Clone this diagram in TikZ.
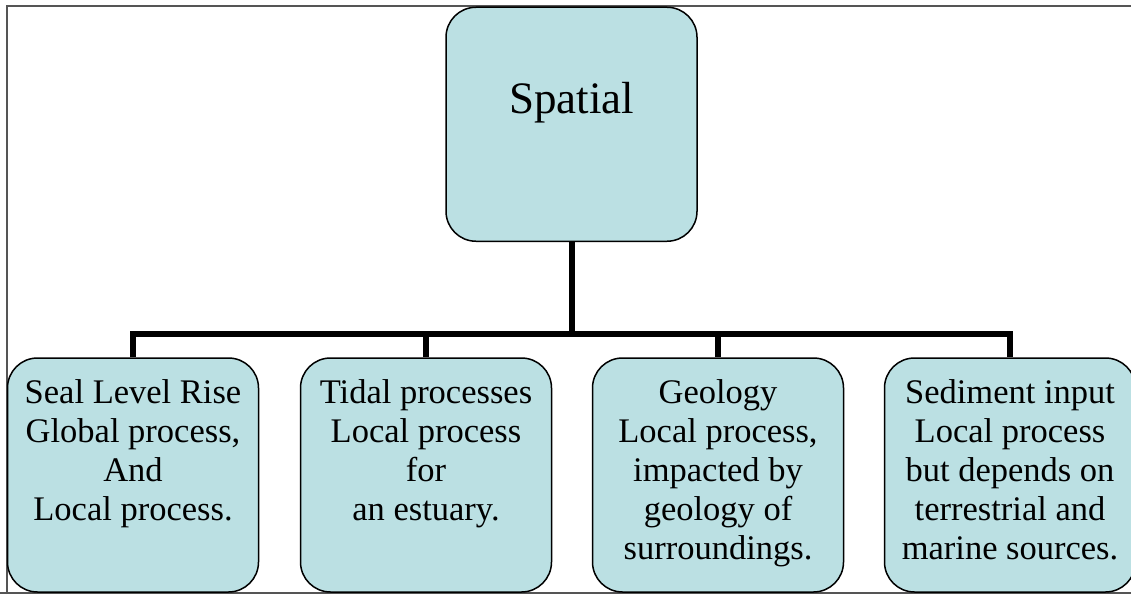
\documentclass[tikz,border=0pt]{standalone}
\usepackage{fontspec}
\setmainfont{Liberation Serif}
\definecolor{boxfill}{HTML}{BBE0E3}
\definecolor{framegray}{HTML}{555555}
\tikzset{
  orgbox/.style={draw=black, line width=1.5pt, fill=boxfill, rounded corners=30pt,
    minimum width=251pt, minimum height=234pt, inner sep=0pt},
  boxtext/.style={anchor=north, align=center, inner sep=0pt,
    font=\fontsize{34.5}{39}\selectfont},
  conn/.style={draw=black, line width=6pt, line join=miter, line cap=butt}
}
\begin{document}
\begin{tikzpicture}[x=1pt,y=-1pt]
\useasboundingbox (0,0) rectangle (1131,594);
\draw[framegray, line width=2pt] (7,594) -- (7,6) -- (1140,6);
\draw[framegray, line width=2pt] (0,592.5) -- (1140,592.5);

\node[orgbox] (top) at (571.5,124.25) {};
\node[orgbox] (b1) at (133,475) {};
\node[orgbox] (b2) at (426,475) {};
\node[orgbox] (b3) at (718,475) {};
\node[orgbox] (b4) at (1010,475) {};

\node[anchor=base, inner sep=0pt, font=\fontsize{45}{50}\selectfont] (ttop) at (571.5,113) {Spatial};
\node[boxtext] (t1) at (133,379.5) {Seal Level Rise\\Global process,\\And\\Local process.};
\node[boxtext] (t2) at (426,379.5) {Tidal processes\\Local process\\for\\an estuary.};
\node[boxtext] (t3) at (718,379.5) {Geology\\Local process,\\impacted by\\geology of\\surroundings.};
\node[boxtext] (t4) at (1010,379.5) {Sediment input\\Local process\\but depends on\\terrestrial and\\marine sources.};

\coordinate (bus) at (571.5,334);
\draw[conn] (top.south) -- (bus);
\draw[conn] (b1.north) -- (b1.north |- bus) -- (b4.north |- bus) -- (b4.north);
\draw[conn] (b2.north |- bus) -- (b2.north);
\draw[conn] (b3.north |- bus) -- (b3.north);
\end{tikzpicture}
\end{document}
